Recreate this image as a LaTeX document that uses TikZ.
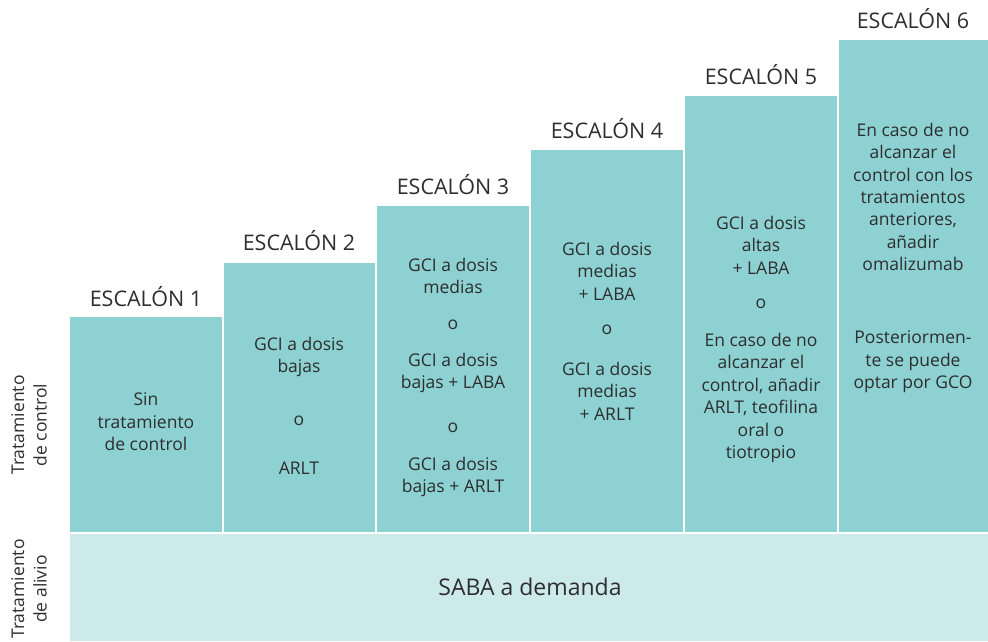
\documentclass[tikz,border=0pt]{standalone}
\usepackage{fontspec}
\setmainfont{Open Sans}
\usepackage{tikz}
\usetikzlibrary{positioning}
\definecolor{escalon}{HTML}{8DD1D2}
\definecolor{alivio}{HTML}{CDEAEA}
\definecolor{letra}{HTML}{2E2E2E}

\begin{document}
\begin{tikzpicture}[x=1pt,y=-1pt]
\tikzstyle{peldano}=[fill=escalon]
\tikzstyle{titulo}=[inner sep=0pt,text=letra,font=\fontsize{21.5}{26}\selectfont]
\tikzstyle{cuerpo}=[inner sep=0pt,align=center,text=letra,font=\fontsize{17.5}{22.4}\selectfont]
\tikzstyle{lateral}=[cuerpo,rotate=90]
\useasboundingbox (0,0) rectangle (988,641);

% escalones
\fill[peldano] (70,317) rectangle (222,532);
\fill[peldano] (224,263) rectangle (375,532);
\fill[peldano] (377,206) rectangle (529,532);
\fill[peldano] (531,150) rectangle (683,532);
\fill[peldano] (685,96) rectangle (837,532);
\fill[peldano] (839,40) rectangle (988,532);
\fill[alivio] (70,534) rectangle (988,641);

% titulos
\node[titulo] at(146,297) (e1) {ESCALÓN 1};
\node[titulo] at(299,241) (e2) {ESCALÓN 2};
\node[titulo] at(453,185) (e3) {ESCALÓN 3};
\node[titulo] at(607,129) (e4) {ESCALÓN 4};
\node[titulo] at(761,75) (e5) {ESCALÓN 5};
\node[titulo] at(913,19) (e6) {ESCALÓN 6};

% textos laterales
\node[lateral] at(29,425) (control) {Tratamiento\\de control};
\node[lateral] at(29,589) (rescate) {Tratamiento\\de alivio};

% escalon 1
\node[cuerpo] at(146,422) (s1) {Sin\\tratamiento\\de control};

% escalon 2
\node[cuerpo] at(299,357) (s2a) {GCI a dosis\\bajas};
\node[cuerpo] at(299,421) (s2o) {o};
\node[cuerpo] at(299,468) (s2b) {ARLT};

% escalon 3
\node[cuerpo] at(453,276) (s3a) {GCI a dosis\\medias};
\node[cuerpo] at(453,325) (s3o) {o};
\node[cuerpo] at(453,373) (s3b) {GCI a dosis\\bajas + LABA};
\node[cuerpo] at(453,428) (s3p) {o};
\node[cuerpo] at(453,477) (s3c) {GCI a dosis\\bajas + ARLT};

% escalon 4
\node[cuerpo] at(607,271) (s4a) {GCI a dosis\\medias\\+ LABA};
\node[cuerpo] at(607,330) (s4o) {o};
\node[cuerpo] at(607,391) (s4b) {GCI a dosis\\medias\\+ ARLT};

% escalon 5
\node[cuerpo] at(761,245) (s5a) {GCI a dosis\\altas\\+ LABA};
\node[cuerpo] at(761,304) (s5o) {o};
\node[cuerpo] at(761,398) (s5b) {En caso de no\\alcanzar el\\control, añadir\\ARLT, teofilina\\oral o\\tiotropio};

% escalon 6
\node[cuerpo] at(913,197) (s6a) {En caso de no\\alcanzar el\\control con los\\tratamientos\\anteriores,\\añadir\\omalizumab};
\node[cuerpo] at(913,362) (s6b) {Posteriormen-\\te se puede\\optar por GCO};

% alivio
\node[inner sep=0pt,text=letra,font=\fontsize{23}{28}\selectfont] at(530,587) (saba) {SABA a demanda};
\end{tikzpicture}
\end{document}
